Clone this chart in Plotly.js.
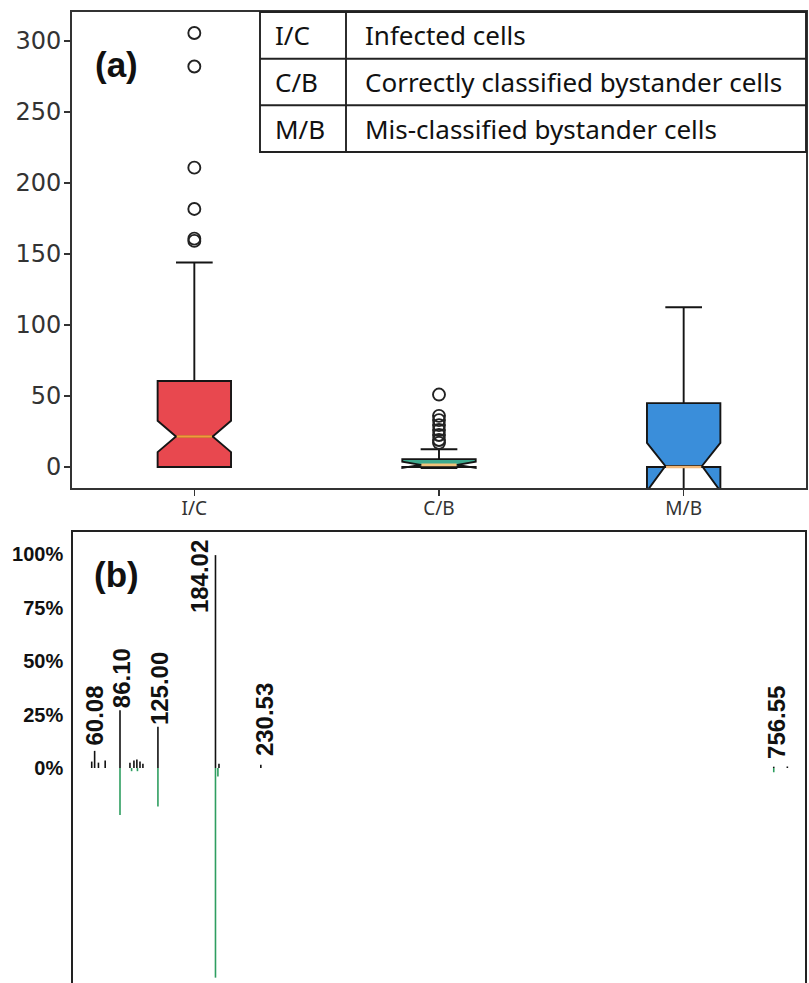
<!DOCTYPE html>
<html><head><meta charset="utf-8">
<script src="https://cdn.plot.ly/plotly-3.0.1.min.js"></script>
<style>html,body{margin:0;padding:0;background:#fff;}#chart{width:809px;height:983px;}</style>
</head><body><div id="chart"></div>
<script>
// ---------- Panel (a): notched box plots ----------
const categories = ['I/C', 'C/B', 'M/B'];
const q1 = [0, 0, 0];
const medians = [21.5, 1.5, 0];
const q3 = [60.5, 5.5, 45];
const lowerFence = [0, 0, 0];
const upperFence = [144, 12.5, 112.5];
const notchSpan = [11, 2.2, 17];
const outliersIC = [305.6, 282, 210.8, 181.7, 160.8, 159.2];
const outliersCB = [51, 36, 33, 29.5, 26, 22.5, 19, 17];
const outliersMB = [];
const yTicksA = [0, 50, 100, 150, 200, 250, 300];
const tableAbbr = ['I/C', 'C/B', 'M/B'];
const tableDesc = ['Infected cells', 'Correctly classified bystander cells', 'Mis-classified bystander cells'];

// ---------- Panel (b): mirrored spectrum ----------
const topMz = [57.1, 60.08, 64.0, 70.9, 86.10, 96.3, 100.4, 103.4, 106.6, 109.6, 125.00, 184.02, 187.6, 230.53, 756.55, 770.5];
const topInt = [3, 8, 2.5, 3.5, 27, 2.5, 3.5, 4, 3, 2, 19.3, 99.5, 2, 1.5, 0.6, 0.7];
const bottomMz = [86.10, 98.0, 104.0, 125.00, 184.02, 186.5, 756.55];
const bottomInt = [-22, -1.5, -1.5, -18, -98, -4, -2];
const peakLabels = ['60.08', '86.10', '125.00', '184.02', '230.53', '756.55'];
const peakLabelMz = [60.08, 86.10, 125.00, 184.02, 230.53, 756.55];
const peakLabelInt = [8, 27, 19.3, 99.5, 1.5, 0.6];
const yTicksB = [0, 25, 50, 75, 100];
const yTickTextB = ['0%', '25%', '50%', '75%', '100%'];

// ---------- styles ----------
const W = 809, H = 983;
const boxColors = ['#E8484F', '#3DAA8E', '#3A8EDA'];
const medianColors = ['#F39A3A', '#F2C27A', '#F2B878'];
const labelOffsets = {
  '60.08': {xs: 0, ys: 3, ya: 'bottom'},
  '86.10': {xs: 1, ys: 0, ya: 'bottom'},
  '125.00': {xs: 1, ys: 0, ya: 'bottom'},
  '184.02': {xs: -16, ys: 17, ya: 'top'},
  '230.53': {xs: 3, ys: 7, ya: 'bottom'},
  '756.55': {xs: 2, ys: 6, ya: 'bottom'}
};
const px = v => v / W, py = v => 1 - v / H;

const traces = [];
categories.forEach((c, i) => {
  traces.push({
    type: 'box', x: [i], q1: [q1[i]], median: [medians[i]], q3: [q3[i]],
    lowerfence: [lowerFence[i]], upperfence: [upperFence[i]], notchspan: [notchSpan[i]],
    notched: true, notchwidth: 0.25, width: 0.3, whiskerwidth: 0.5,
    fillcolor: boxColors[i], line: {color: '#151515', width: 1.9},
    boxpoints: false, hoverinfo: 'skip', showlegend: false, xaxis: 'x', yaxis: 'y'
  });
  traces.push({
    type: 'scatter', mode: 'lines', x: [i - 0.072, i + 0.072], y: [medians[i], medians[i]],
    line: {color: medianColors[i], width: 2.6}, hoverinfo: 'skip', showlegend: false, xaxis: 'x', yaxis: 'y'
  });
});
[outliersIC, outliersCB, outliersMB].forEach((arr, i) => {
  traces.push({
    type: 'scatter', mode: 'markers', x: arr.map(() => i), y: arr,
    marker: {symbol: 'circle-open', size: 12, color: '#222', line: {width: 1.9, color: '#222'}},
    hoverinfo: 'skip', showlegend: false, xaxis: 'x', yaxis: 'y'
  });
});

function stems(mz, inten) {
  const x = [], y = [];
  mz.forEach((m, k) => { x.push(m, m, null); y.push(0, inten[k], null); });
  return {x, y};
}
const t = stems(topMz, topInt), b = stems(bottomMz, bottomInt);
traces.push({type: 'scatter', mode: 'lines', x: t.x, y: t.y, line: {color: '#111', width: 1.6},
  hoverinfo: 'skip', showlegend: false, xaxis: 'x2', yaxis: 'y2'});
traces.push({type: 'scatter', mode: 'lines', x: b.x, y: b.y, line: {color: '#2E9E60', width: 1.6},
  hoverinfo: 'skip', showlegend: false, xaxis: 'x2', yaxis: 'y2'});

const annotations = [];
annotations.push({text: '(a)', xref: 'paper', yref: 'paper', x: px(116), y: py(64), xanchor: 'center', yanchor: 'middle',
  showarrow: false, font: {family: 'Liberation Sans', size: 35, weight: 700, color: '#111'}});
annotations.push({text: '(b)', xref: 'paper', yref: 'paper', x: px(116), y: py(574), xanchor: 'center', yanchor: 'middle',
  showarrow: false, font: {family: 'Liberation Sans', size: 35, weight: 700, color: '#111'}});
const rowCenters = [35.3, 82, 128.7];
tableAbbr.forEach((a, k) => {
  annotations.push({text: a, xref: 'paper', yref: 'paper', x: px(273), y: py(rowCenters[k]), xanchor: 'left', yanchor: 'middle',
    showarrow: false, font: {family: 'Noto Sans', size: 26, color: '#111'}});
  annotations.push({text: tableDesc[k], xref: 'paper', yref: 'paper', x: px(363), y: py(rowCenters[k]), xanchor: 'left', yanchor: 'middle',
    showarrow: false, font: {family: 'Noto Sans', size: 26, color: '#111'}});
});
peakLabels.forEach((lab, k) => {
  const o = labelOffsets[lab];
  annotations.push({text: lab, xref: 'x2', yref: 'y2', x: peakLabelMz[k], y: peakLabelInt[k],
    textangle: -90, showarrow: false, xanchor: 'center', yanchor: o.ya, xshift: o.xs, yshift: o.ys,
    font: {family: 'Liberation Sans', size: 24, weight: 700, color: '#111'}});
});

const lc = '#222';
const shapes = [
  {type: 'rect', xref: 'paper', yref: 'paper', x0: px(260), x1: px(806), y0: py(152), y1: py(12),
    line: {color: lc, width: 1.9}, fillcolor: 'rgba(255,255,255,0)', layer: 'above'},
  {type: 'line', xref: 'paper', yref: 'paper', x0: px(260), x1: px(806), y0: py(58.7), y1: py(58.7), line: {color: lc, width: 1.9}},
  {type: 'line', xref: 'paper', yref: 'paper', x0: px(260), x1: px(806), y0: py(105.3), y1: py(105.3), line: {color: lc, width: 1.9}},
  {type: 'line', xref: 'paper', yref: 'paper', x0: px(346), x1: px(346), y0: py(152), y1: py(12), line: {color: lc, width: 1.9}}
];

const layout = {
  width: W, height: H, margin: {l: 0, r: 0, t: 0, b: 0}, paper_bgcolor: '#fff', plot_bgcolor: '#fff',
  showlegend: false,
  xaxis: {domain: [px(72), px(806)], range: [-0.5, 2.5], tickvals: [0, 1, 2], ticktext: categories,
    ticks: 'outside', ticklen: 6, tickwidth: 1.5, tickcolor: '#333', showline: true, mirror: true,
    linecolor: '#333', linewidth: 1.8, showgrid: false, zeroline: false, anchor: 'y', ticklabelstandoff: -4,
    tickfont: {family: 'Noto Sans', size: 19, color: '#333'}},
  yaxis: {domain: [py(488), py(12)], range: [-14.8, 320.4], tickvals: yTicksA, ticktext: yTicksA.map(String),
    ticks: 'outside', ticklen: 6, tickwidth: 1.5, tickcolor: '#333', showline: true, mirror: true,
    linecolor: '#333', linewidth: 1.8, showgrid: false, zeroline: false, anchor: 'x', ticklabelstandoff: -2,
    tickfont: {family: 'DejaVu Sans', size: 24, color: '#333'}},
  xaxis2: {domain: [px(73), px(805)], range: [37.9, 788.6], anchor: 'y2', side: 'top', showline: true,
    linecolor: '#222', linewidth: 1.8, showticklabels: false, ticks: '', showgrid: false, zeroline: false},
  yaxis2: {domain: [0, py(532)], range: [-100.5, 110.3], anchor: 'x2', showline: true, mirror: true,
    linecolor: '#222', linewidth: 1.8, tickvals: yTicksB, ticktext: yTickTextB, ticks: '',
    showgrid: false, zeroline: false, ticklabelstandoff: 4,
    tickfont: {family: 'Liberation Sans', size: 20, weight: 700, color: '#111'}},
  annotations: annotations, shapes: shapes
};
Plotly.newPlot('chart', traces, layout, {staticPlot: true});
</script></body></html>
